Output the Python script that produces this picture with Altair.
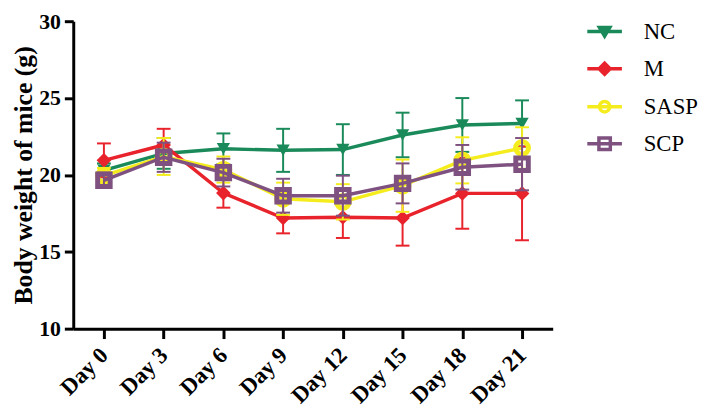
import altair as alt
import pandas as pd

days = [0, 3, 6, 9, 12, 15, 18, 21]
series = ["NC", "M", "SASP", "SCP"]

nc_mean = [20.3, 21.4, 21.7, 21.6, 21.65, 22.6, 23.25, 23.35]
nc_sd = [0.45, 1.0, 1.0, 1.4, 1.65, 1.45, 1.75, 1.5]
m_mean = [20.95, 21.95, 18.82, 17.2, 17.25, 17.2, 18.8, 18.8]
m_sd = [1.1, 1.05, 0.95, 1.0, 1.35, 1.8, 2.3, 3.05]
sasp_mean = [19.95, 21.2, 20.35, 18.45, 18.25, 19.3, 20.95, 21.75]
sasp_sd = [0.5, 1.2, 0.85, 1.05, 1.15, 1.7, 1.5, 1.35]
scp_mean = [19.65, 21.15, 20.15, 18.65, 18.65, 19.45, 20.5, 20.7]
scp_sd = [0.5, 0.95, 0.9, 1.1, 1.3, 1.3, 1.45, 1.7]

colors = ["#1B8A5A", "#E8232B", "#F5EC1E", "#7E5180"]

means = {"NC": nc_mean, "M": m_mean, "SASP": sasp_mean, "SCP": scp_mean}
sds = {"NC": nc_sd, "M": m_sd, "SASP": sasp_sd, "SCP": scp_sd}

rows = []
for s in series:
    for d, mu, sd in zip(days, means[s], sds[s]):
        rows.append({"day": d, "series": s, "mean": mu, "lo": mu - sd, "hi": mu + sd})
df = pd.DataFrame(rows)

FONT = "Liberation Serif"

xscale = alt.Scale(domain=[-1.54, 22.54], nice=False, zero=False)
yscale = alt.Scale(domain=[10, 30], nice=False, zero=False)

xaxis = alt.Axis(
    values=days,
    labelExpr="'Day ' + datum.value",
    labelAngle=-45,
    labelAlign="right",
    labelBaseline="middle",
    labelPadding=13,
    labelOverlap=False,
    labelFont=FONT,
    labelFontWeight="bold",
    labelFontSize=23,
    labelColor="black",
    tickSize=10,
    tickWidth=3,
    tickColor="black",
    domainWidth=3,
    domainColor="black",
    grid=False,
    title=None,
)
yaxis = alt.Axis(
    values=[10, 15, 20, 25, 30],
    labelFont=FONT,
    labelFontWeight="bold",
    labelFontSize=22,
    labelColor="black",
    labelPadding=4,
    labelOverlap=False,
    tickSize=9,
    tickWidth=3,
    tickColor="black",
    domainWidth=3,
    domainColor="black",
    grid=False,
    title="Body weight of mice (g)",
    titleFont=FONT,
    titleFontWeight="bold",
    titleFontSize=26,
    titleColor="black",
    titleBaseline="alphabetic",
    titleX=-42,
)


def X():
    return alt.X("day:Q", scale=xscale, axis=xaxis)


def Y(field):
    return alt.Y(f"{field}:Q", scale=yscale, axis=yaxis)


marker = {
    "NC": dict(shape="triangle-down", filled=True, size=180, strokeWidth=0),
    "M": dict(shape="diamond", filled=True, size=220, strokeWidth=0),
    "SASP": dict(shape="circle", filled=False, size=170, strokeWidth=5),
    "SCP": dict(shape="square", filled=False, size=160, strokeWidth=5),
}

base = alt.Chart(df)
layers = []
for s, col in zip(series, colors):
    d = base.transform_filter(alt.datum.series == s)
    layers.append(d.mark_rule(color=col, strokeWidth=2).encode(x=X(), y=Y("lo"), y2="hi:Q"))
    layers.append(d.mark_tick(color=col, thickness=2, size=14, orient="horizontal", opacity=1).encode(x=X(), y=Y("hi")))
    layers.append(d.mark_tick(color=col, thickness=2, size=14, orient="horizontal", opacity=1).encode(x=X(), y=Y("lo")))
    layers.append(d.mark_line(color=col, strokeWidth=3.5).encode(x=X(), y=Y("mean")))
    m = marker[s]
    layers.append(
        d.mark_point(shape=m["shape"], filled=m["filled"], size=m["size"], color=col,
                     strokeWidth=m["strokeWidth"], opacity=1).encode(x=X(), y=Y("mean"))
    )

legend_paths = [
    "M-1,0H1M-0.3,-0.24L0.3,-0.24L0,0.26Z",
    "M-1,0H1M0,-0.32L0.32,0L0,0.32L-0.32,0Z",
    "M-1,0H1M0.3,0A0.3,0.3 0 1,1 -0.3,0A0.3,0.3 0 1,1 0.3,0Z",
    "M-1,0H1M-0.33,-0.33H0.33V0.33H-0.33Z",
]
legend_fills = [colors[0], colors[1], "transparent", "transparent"]

leg = alt.Legend(
    title=None,
    orient="none",
    legendX=518,
    legendY=-9,
    symbolSize=1225,
    symbolStrokeWidth=3.5,
    symbolOpacity=1,
    labelFont=FONT,
    labelFontSize=23,
    labelColor="black",
    labelOffset=20,
    rowPadding=5.5,
    padding=0,
)

legend_layer = (
    base.transform_filter("false")
    .mark_point(opacity=1)
    .encode(
        x=X(),
        y=Y("mean"),
        shape=alt.Shape("series:N", scale=alt.Scale(domain=series, range=legend_paths), legend=leg),
        fill=alt.Fill("series:N", scale=alt.Scale(domain=series, range=legend_fills), legend=leg),
        stroke=alt.Stroke("series:N", scale=alt.Scale(domain=series, range=colors), legend=leg),
    )
)
layers.append(legend_layer)

chart = (
    alt.layer(*layers)
    .properties(
        width=485,
        height=311,
        autosize=alt.AutoSizeParams(type="none"),
        padding={"left": 66, "top": 11, "right": 150, "bottom": 87},
        background="white",
    )
    .configure_view(stroke=None)
)

chart.save("out.html", embed_options={"renderer": "svg", "actions": False})
